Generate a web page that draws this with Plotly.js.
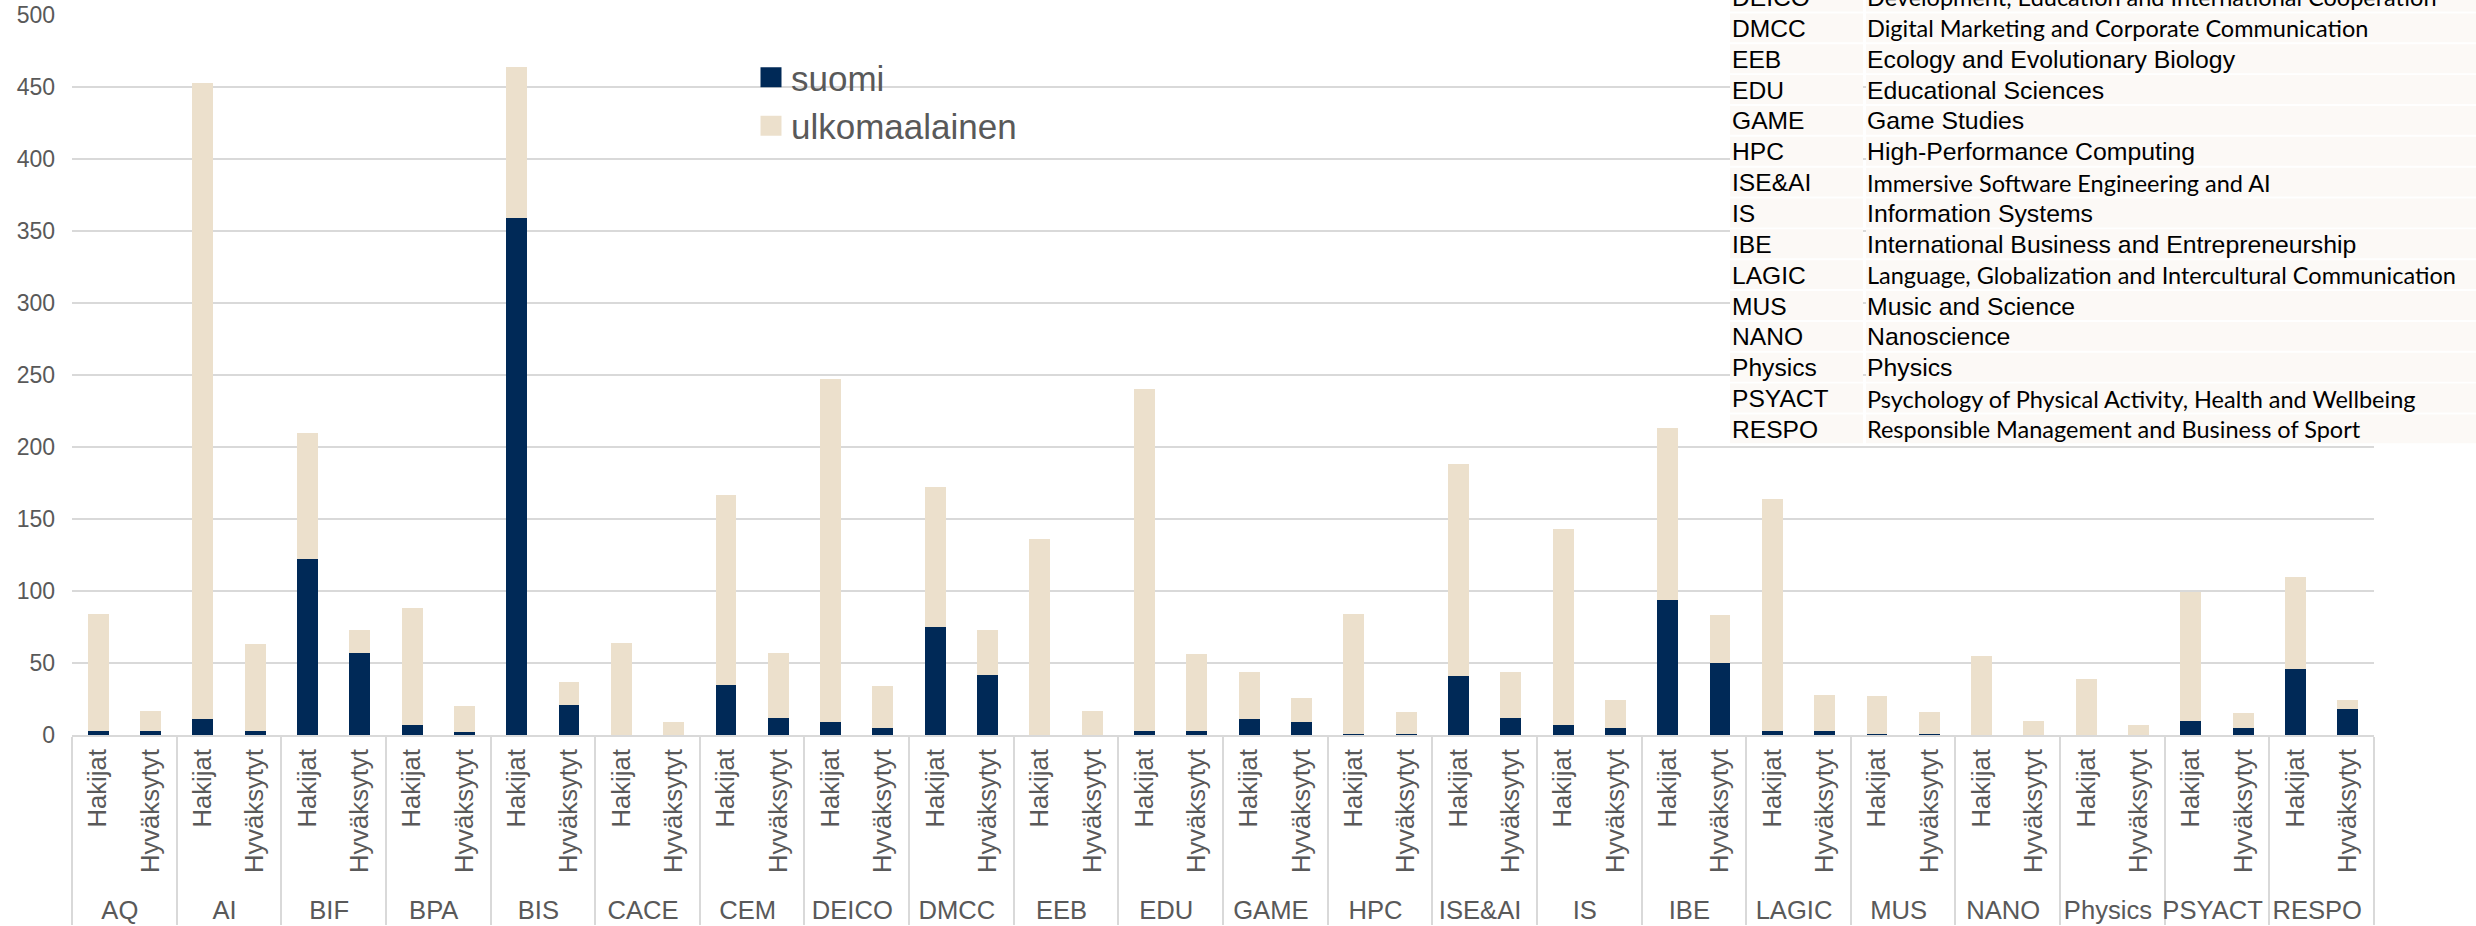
<!DOCTYPE html>
<html>
<head>
<meta charset="utf-8">
<script src="https://cdn.plot.ly/plotly-3.0.1.min.js"></script>
<style>
  html, body { margin: 0; padding: 0; background: #ffffff; }
  #chart { width: 2476px; height: 926px; }
</style>
</head>
<body>
<div id="chart"></div>
<script>
// ---------- DATA ----------
const groups = ['AQ','AI','BIF','BPA','BIS','CACE','CEM','DEICO','DMCC','EEB','EDU','GAME','HPC','ISE&AI','IS','IBE','LAGIC','MUS','NANO','Physics','PSYACT','RESPO'];
const subLabels = ['Hakijat','Hyväksytyt'];
const seriesNames = ['suomi','ulkomaalainen'];

// suomi (Finnish) applicants / accepted per programme
const suomiHakijat    = [3, 11, 122, 7, 359, 0, 35, 9, 75, 0, 3, 11, 1, 41, 7, 94, 3, 1, 0, 0, 10, 46];
const suomiHyvaksytyt = [3, 3, 57, 2, 21, 0, 12, 5, 42, 0, 3, 9, 1, 12, 5, 50, 3, 1, 0, 0, 5, 18];
// ulkomaalainen (foreign) applicants / accepted per programme
const ulkoHakijat     = [81, 442, 88, 81, 105, 64, 132, 238, 97, 136, 237, 33, 83, 147, 136, 119, 161, 26, 55, 39, 89, 64];
const ulkoHyvaksytyt  = [14, 60, 16, 18, 16, 9, 45, 29, 31, 17, 53, 17, 15, 32, 19, 33, 25, 15, 10, 7, 10, 6];

const yTickVals = [0, 50, 100, 150, 200, 250, 300, 350, 400, 450, 500];

// abbreviation table (visible part)
const tableAbbr = ['DEICO','DMCC','EEB','EDU','GAME','HPC','ISE&AI','IS','IBE','LAGIC','MUS','NANO','Physics','PSYACT','RESPO'];
const tableNames = [
  'Development, Education and International Cooperation',
  'Digital Marketing and Corporate Communication',
  'Ecology and Evolutionary Biology',
  'Educational Sciences',
  'Game Studies',
  'High-Performance Computing',
  'Immersive Software Engineering and AI',
  'Information Systems',
  'International Business and Entrepreneurship',
  'Language, Globalization and Intercultural Communication',
  'Music and Science',
  'Nanoscience',
  'Physics',
  'Psychology of Physical Activity, Health and Wellbeing',
  'Responsible Management and Business of Sport'
];
const calibriRows = ['DEICO','DMCC','ISE&AI','LAGIC','PSYACT','RESPO'];

// ---------- BUILD ----------
const W = 2476, H = 926;
const M = {l: 72, r: 102, t: 15, b: 191};
const plotW = W - M.l - M.r, plotH = H - M.t - M.b;
const px2x = x => (x - M.l) / plotW;
const px2y = y => (H - M.b - y) / plotH;

const xOuter = groups.flatMap(g => [g, g]);
const xInner = groups.flatMap(() => subLabels);
const interleave = (a, b) => a.flatMap((v, i) => [v, b[i]]);

const ARIAL = 'Liberation Sans, Arial, sans-serif';
const GREY = '#595959';
const GRID = '#D9D9D9';

const traces = [
  {
    type: 'bar', name: seriesNames[0],
    x: [xOuter, xInner], y: interleave(suomiHakijat, suomiHyvaksytyt),
    marker: {color: '#002957'}, hoverinfo: 'y+name'
  },
  {
    type: 'bar', name: seriesNames[1],
    x: [xOuter, xInner], y: interleave(ulkoHakijat, ulkoHyvaksytyt),
    marker: {color: '#ECE0CC'}, hoverinfo: 'y+name'
  }
];

// table overlay
const shapes = [];
const annotations = [];
const rowPitch = 30.85, firstTop = 13.4 - rowPitch, rowH = 28.9;
const colA = 1730, colDiv = 1863, colB = 1866;
tableAbbr.forEach((ab, i) => {
  const top = firstTop + i * rowPitch;
  const cy = top + rowH / 2 + 0.5;
  shapes.push({type: 'rect', xref: 'paper', yref: 'paper', layer: 'above',
    x0: px2x(colA), x1: px2x(colDiv), y0: px2y(top + rowH), y1: px2y(top),
    fillcolor: '#FCF9F6', line: {width: 0}});
  shapes.push({type: 'rect', xref: 'paper', yref: 'paper', layer: 'above',
    x0: px2x(colB), x1: px2x(W + 5), y0: px2y(top + rowH), y1: px2y(top),
    fillcolor: '#FCF9F6', line: {width: 0}});
  annotations.push({xref: 'paper', yref: 'paper', x: px2x(colA), y: px2y(cy),
    xanchor: 'left', yanchor: 'middle', showarrow: false, text: ab.replace('&', '&amp;'),
    font: {family: ARIAL, size: 24.6, color: '#000000'}});
  const isCal = calibriRows.includes(ab);
  annotations.push({xref: 'paper', yref: 'paper', x: px2x(colB - 1), y: px2y(cy),
    xanchor: 'left', yanchor: 'middle', showarrow: false, text: tableNames[i],
    font: isCal ? {family: 'Lato, Carlito, sans-serif', size: 23.5, color: '#000000'}
                : {family: ARIAL, size: 24.8, color: '#000000'}});
});

const layout = {
  width: W, height: H,
  margin: M,
  paper_bgcolor: '#ffffff', plot_bgcolor: '#ffffff',
  barmode: 'stack', bargap: 0.6,
  showlegend: true,
  legend: {
    x: px2x(751), y: px2y(48), xanchor: 'left', yanchor: 'top',
    traceorder: 'normal', bgcolor: 'rgba(0,0,0,0)',
    font: {family: ARIAL, size: 35, color: GREY}
  },
  xaxis: {
    type: 'multicategory', automargin: false,
    showline: true, linecolor: GRID, linewidth: 2,
    showgrid: false, zeroline: false, ticks: '',
    tickangle: -90,
    tickfont: {family: ARIAL, size: 25.6, color: GREY},
    showdividers: true, dividercolor: GRID, dividerwidth: 2,
    ticklabelstandoff: 2
  },
  yaxis: {
    range: [0, 500], tickvals: yTickVals, automargin: false,
    showgrid: true, gridcolor: GRID, gridwidth: 2,
    zeroline: false, showline: false, ticks: '',
    tickfont: {family: ARIAL, size: 23, color: GREY},
    ticklabelstandoff: 16
  },
  shapes: shapes,
  annotations: annotations
};

Plotly.newPlot('chart', traces, layout, {displayModeBar: false, staticPlot: true}).then(() => {
  // enlarge the legend colour squares (keep Plotly's own translate)
  document.querySelectorAll('#chart .legend .legendpoints path').forEach(p => {
    p.setAttribute('d', 'M10.5,10H-10.5V-10H10.5Z');
  });
});
</script>
</body>
</html>
